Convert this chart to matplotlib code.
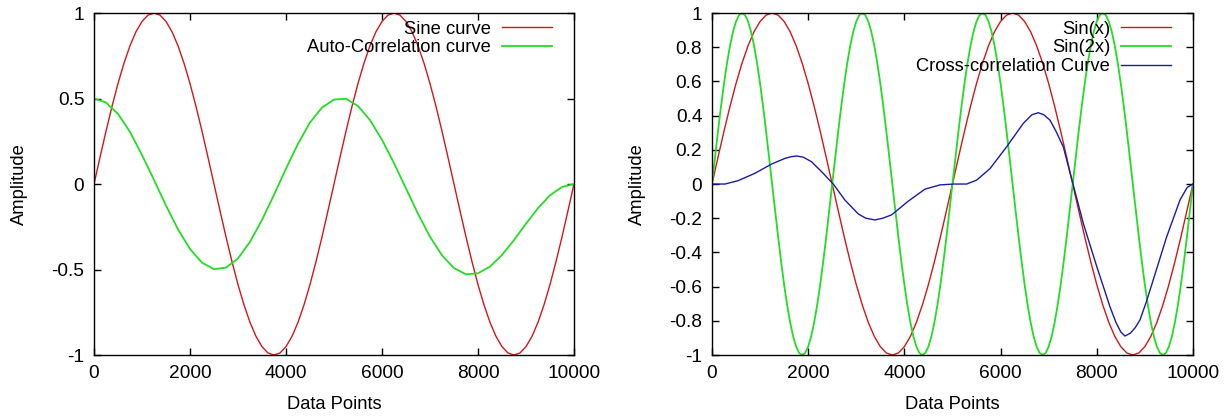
import numpy as np
import matplotlib
matplotlib.use("Agg")
import matplotlib.pyplot as plt
from matplotlib.ticker import FormatStrFormatter

plt.rcParams['font.family'] = ['Liberation Sans', 'DejaVu Sans']
plt.rcParams['font.size'] = 13.2

SINE_PERIOD = [0, .156, .309, .454, .588, .707, .809, .891, .951, .988,
               1, .988, .951, .891, .809, .707, .588, .454, .309, .156,
               0, -.156, -.309, -.454, -.588, -.707, -.809, -.891, -.951, -.988,
               -1, -.988, -.951, -.891, -.809, -.707, -.588, -.454, -.309, -.156]

# left panel
x_sine = np.arange(0, 10001, 125)
sine_curve = SINE_PERIOD * 2 + [0]

x_auto = np.arange(0, 10001, 250)
auto_corr = [0.5, 0.477, 0.41, 0.305, 0.17, 0.024, -0.126, -0.265, -0.38, -0.46,
             -0.498, -0.489, -0.435, -0.338, -0.21, -0.063, 0.09, 0.235, 0.36, 0.447,
             0.494, 0.499, 0.456, 0.374, 0.259, 0.122, -0.026, -0.174, -0.308, -0.417,
             -0.492, -0.528, -0.522, -0.483, -0.415, -0.328, -0.232, -0.141, -0.066, -0.017,
             0]

# right panel
x_sin2 = np.arange(0, 10000.1, 62.5)
sin_2x = SINE_PERIOD * 4 + [0]

x_cross = [0, 270, 547, 894, 1240, 1517, 1650, 1760, 1900, 2072, 2280, 2522, 2765,
           3042, 3200, 3389, 3550, 3736, 4082, 4428, 4740, 5031, 5295, 5503, 5780,
           6127, 6473, 6650, 6785, 6900, 7027, 7150, 7304, 7512, 7720, 7997, 8274,
           8400, 8500, 8586, 8700, 8800, 8898, 9030, 9175, 9452, 9730, 9880, 10000]
cross_corr = [0, 0, 0.02, 0.063, 0.117, 0.15, 0.16, 0.164, 0.157, 0.13, 0.072, 0, -0.094,
              -0.175, -0.2, -0.21, -0.2, -0.18, -0.10, -0.03, -0.005, 0, 0, 0.023, 0.09,
              0.218, 0.355, 0.405, 0.417, 0.405, 0.374, 0.31, 0.218, -0.006, -0.23, -0.48, -0.717,
              -0.81, -0.865, -0.889, -0.872, -0.84, -0.795, -0.69, -0.56, -0.31, -0.094, -0.02, 0]

left_yticks = [-1, -0.5, 0, 0.5, 1]
right_yticks = [-1, -0.8, -0.6, -0.4, -0.2, 0, 0.2, 0.4, 0.6, 0.8, 1]
xticks = [0, 2000, 4000, 6000, 8000, 10000]

RED = '#d01818'
GREEN = '#22dd22'
BLUE = '#1a1aa8'

fig = plt.figure(figsize=(12.32, 4.16), dpi=100)
ax1 = fig.add_axes([0.0763, 0.1466, 0.3896, 0.822])
ax2 = fig.add_axes([0.5779, 0.1466, 0.3904, 0.822])

ax1.plot(x_sine, sine_curve, color=RED, lw=1.0, label='Sine curve')
ax1.plot(x_auto, auto_corr, color=GREEN, lw=1.3, label='Auto-Correlation curve')
ax1.set_yticks(left_yticks)

ax2.plot(x_sine, sine_curve, color=RED, lw=1.0, label='Sin(x)')
ax2.plot(x_sin2, sin_2x, color=GREEN, lw=1.3, label='Sin(2x)')
ax2.plot(x_cross, cross_corr, color=BLUE, lw=1.0, label='Cross-correlation Curve')
ax2.set_yticks(right_yticks)

for ax in (ax1, ax2):
    ax.set_xlim(0, 10000)
    ax.set_ylim(-1, 1)
    ax.set_xticks(xticks)
    ax.yaxis.set_major_formatter(FormatStrFormatter('%g'))
    ax.tick_params(direction='in', top=True, right=True, length=5, width=1,
                   pad=7, labelsize=13.8)
    for sp in ax.spines.values():
        sp.set_linewidth(1.0)
    ax.set_xlabel('Data Points')
    ax.set_ylabel('Amplitude')
    ax.xaxis.set_label_coords(0.5, -0.12)
    ax.yaxis.set_label_coords(-0.137, 0.5)
    ax.legend(loc='upper right', bbox_to_anchor=(0.955, 0.978), frameon=False,
              markerfirst=False, handlelength=2.73, handletextpad=0.6,
              labelspacing=0.1, borderaxespad=0, borderpad=0)

fig.savefig('out.png', dpi=100)
